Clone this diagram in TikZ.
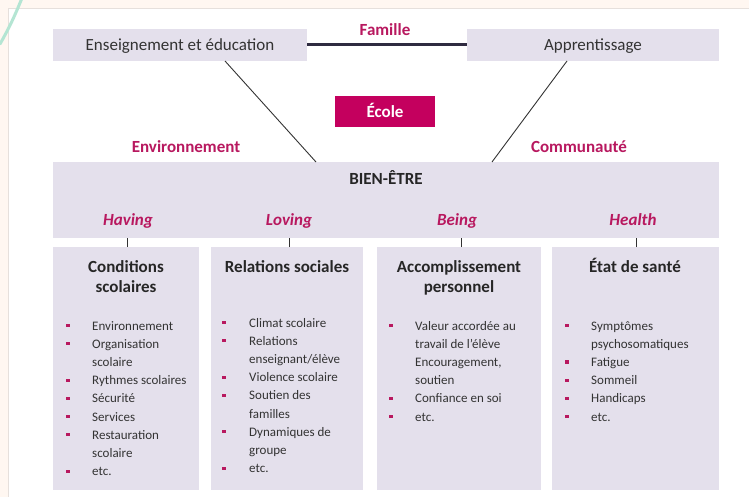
\documentclass[tikz,border=0pt]{standalone}
\usepackage{fontspec}
\setmainfont{Carlito}
\definecolor{lav}{HTML}{E4E0EC}
\definecolor{mag}{HTML}{B8185F}
\definecolor{ecolefill}{HTML}{C4005E}
\definecolor{peach}{HTML}{FFF7F1}
\definecolor{teal}{HTML}{B4E5D3}
\definecolor{navy}{HTML}{2F2B40}
\definecolor{edge}{HTML}{E6E0DC}
\begin{document}
\begin{tikzpicture}[x=1pt,y={(0pt,-1pt)},
  box/.style={fill=lav, draw=none, anchor=north west, inner sep=0pt, outer sep=0pt},
  lbl/.style={font=\fontsize{17}{20}\selectfont\bfseries, text=mag, anchor=base, inner sep=0pt},
  hdr/.style={font=\fontsize{17}{20}\selectfont\bfseries\itshape, text=mag, anchor=base, inner sep=0pt},
  ttl/.style={font=\fontsize{17}{20}\selectfont\bfseries, text=black!85, anchor=base, inner sep=0pt},
  top/.style={font=\fontsize{17}{20}\selectfont, text=black!80, anchor=base, inner sep=0pt},
  item/.style={font=\fontsize{13}{15}\selectfont, text=black!80, anchor=base west, inner sep=0pt},
  bul/.style={fill=mag, minimum size=3.2pt, inner sep=0pt, outer sep=0pt},
  diag/.style={draw=black!80, line width=0.9pt},
  tick/.style={draw=black!80, line width=1pt}]
\useasboundingbox (0,0) rectangle (749,497);
% background
\begin{scope}
\clip (0,0) rectangle (749,497);
\path[fill=peach] (0,0) rectangle (749,497);
\path[fill=white, draw=edge, line width=0.8pt] (8,8) rectangle (760,510);
\draw[teal, line width=3pt, line cap=round] (22,-2) .. controls (14,18) and (8,30) .. (0,44);
\end{scope}

% top boxes
\node[box, minimum width=254pt, minimum height=32pt] (ens) at (53,29) {};
\node[top] (enst) at (180,51) {Enseignement et éducation};
\node[box, minimum width=252pt, minimum height=32pt] (app) at (467,29) {};
\node[top] (appt) at (593,51) {Apprentissage};
\draw[navy, line width=3pt] (ens.east) -- (app.west);
\node[lbl] (fam) at (385,36) {Famille};

% Ecole
\node[box, fill=ecolefill, minimum width=100pt, minimum height=31pt] (ecole) at (335,96) {};
\node[lbl, text=white] (ecolet) at (385,118) {École};

\node[lbl] (env) at (186,153) {Environnement};
\node[lbl] (com) at (579,153) {Communauté};

% Bien-etre
\node[box, minimum width=666pt, minimum height=76pt] (bien) at (53,162) {};
\node[ttl] (biet) at (386,185) {BIEN-ÊTRE};

\coordinate (d1) at (225,61);
\coordinate (d2) at (316,162);
\coordinate (d3) at (567,61);
\coordinate (d4) at (492,162);
\draw[diag] (d1) -- (d2);
\draw[diag] (d3) -- (d4);

\node[hdr] (h1) at (128,225) {Having};
\node[hdr] (h2) at (289,225) {Loving};
\node[hdr] (h3) at (457,225) {Being};
\node[hdr] (h4) at (633,225) {Health};

% lower boxes
\node[box, minimum width=146pt, minimum height=243pt] (b1) at (53,247) {};
\node[box, minimum width=152pt, minimum height=243pt] (b2) at (211,247) {};
\node[box, minimum width=164pt, minimum height=243pt] (b3) at (377,247) {};
\node[box, minimum width=167pt, minimum height=243pt] (b4) at (552,247) {};

\coordinate (t1) at (127,247); \coordinate (t2) at (289,247);
\coordinate (t3) at (461,247); \coordinate (t4) at (636,247);
\foreach \t in {t1,t2,t3,t4}{\draw[tick] (\t) -- (\t |- bien.south);}

\node[ttl] (c1a) at (126,272) {Conditions};
\node[ttl] (c1b) at (126,292) {scolaires};
\node[ttl] (c2a) at (287,272) {Relations sociales};
\node[ttl] (c3a) at (459,272) {Accomplissement};
\node[ttl] (c3b) at (459,292) {personnel};
\node[ttl] (c4a) at (635,272) {État de santé};

\foreach \b/\t [count=\i from 0] in {1/Environnement,1/Organisation,0/scolaire,1/Rythmes scolaires,1/Sécurité,1/Services,1/Restauration,0/scolaire,1/etc.}{
  \node[item] (i1-\i) at (92,{330+18.2*\i}) {\t};
  \ifnum\b=1 \node[bul] (p1-\i) at (68,{325.5+18.2*\i}) {};\fi
}
\foreach \b/\t [count=\i from 0] in {1/Climat scolaire,1/Relations,0/{enseignant/élève},1/Violence scolaire,1/Soutien des,0/familles,1/Dynamiques de,0/groupe,1/etc.}{
  \node[item] (i2-\i) at (249,{327+18.2*\i}) {\t};
  \ifnum\b=1 \node[bul] (p2-\i) at (224,{322.5+18.2*\i}) {};\fi
}
\foreach \b/\t [count=\i from 0] in {1/Valeur accordée au,0/travail de l’élève,0/{Encouragement,},0/soutien,1/Confiance en soi,1/etc.}{
  \node[item] (i3-\i) at (415,{330+18.2*\i}) {\t};
  \ifnum\b=1 \node[bul] (p3-\i) at (391,{325.5+18.2*\i}) {};\fi
}
\foreach \b/\t [count=\i from 0] in {1/Symptômes,0/psychosomatiques,1/Fatigue,1/Sommeil,1/Handicaps,1/etc.}{
  \node[item] (i4-\i) at (591,{330+18.2*\i}) {\t};
  \ifnum\b=1 \node[bul] (p4-\i) at (567,{325.5+18.2*\i}) {};\fi
}
\end{tikzpicture}
\end{document}
